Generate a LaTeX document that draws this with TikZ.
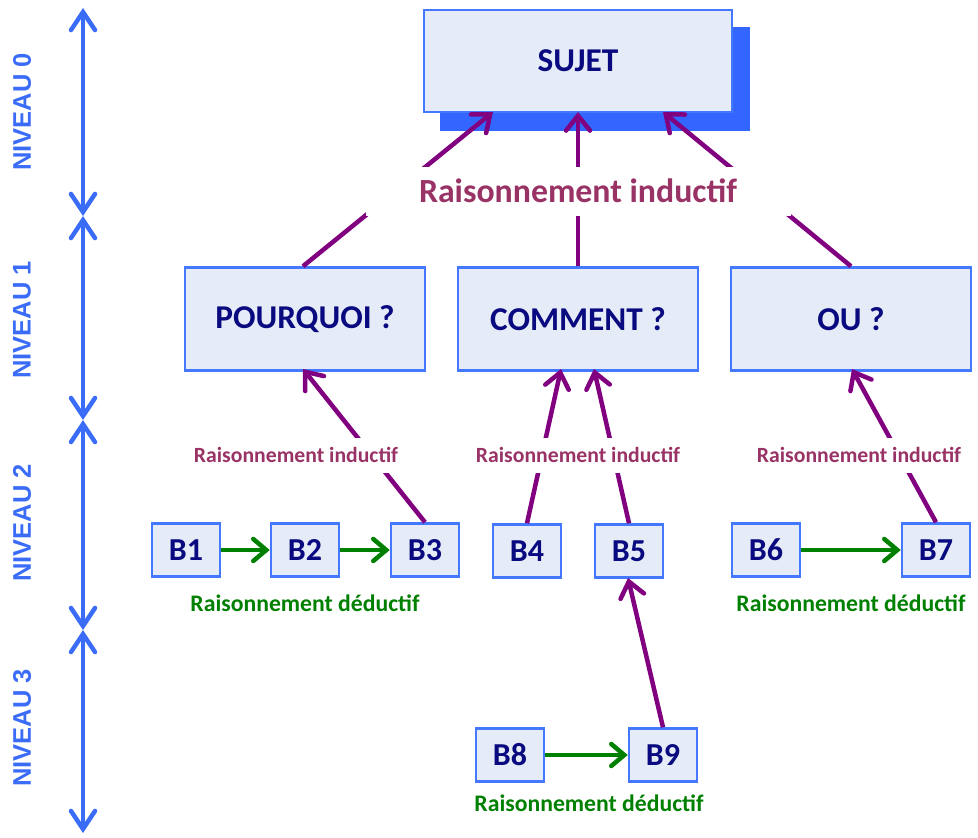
\documentclass[tikz,border=0pt]{standalone}
\usepackage{fontspec}
\setmainfont{Carlito}
\newfontfamily\axisfont{Liberation Sans}
\usetikzlibrary{arrows.meta}
\definecolor{boxfill}{HTML}{E6ECF7}
\definecolor{boxline}{HTML}{4478FF}
\definecolor{navy}{HTML}{0A0A80}
\definecolor{shadowblue}{HTML}{3366FF}
\definecolor{indpurple}{HTML}{800080}
\definecolor{indlabel}{HTML}{993366}
\definecolor{dedgreen}{HTML}{008000}
\definecolor{axisblue}{HTML}{3B6CF7}
\tikzset{
  box/.style={draw=boxline, line width=2.5pt, fill=boxfill, text=navy,
    font=\fontsize{33.3}{38}\selectfont\bfseries, inner sep=0pt},
  bbox/.style={box, minimum width=68pt, minimum height=53pt, font=\fontsize{32}{36}\selectfont\bfseries},
  lvlbox/.style={box, minimum width=240pt, minimum height=103pt},
  indarrow/.style={draw=indpurple, line width=4.5pt,
    -{Straight Barb[length=15pt,width=24pt,line cap=round]}},
  dedarrow/.style={draw=dedgreen, line width=4.5pt,
    -{Straight Barb[length=13pt,width=22pt,line cap=round]}},
  axisarrow/.style={draw=axisblue, line width=4.5pt,
    {Straight Barb[length=18pt,width=24pt,line cap=round]}-{Straight Barb[length=18pt,width=24pt,line cap=round]}},
  indlab/.style={fill=white, text=indlabel, font=\fontsize{21.7}{24}\selectfont\bfseries, inner sep=0pt},
  dedlab/.style={text=dedgreen, font=\fontsize{23.7}{26}\selectfont\bfseries, inner sep=0pt},
  axislab/.style={text=axisblue, rotate=90, font=\axisfont\fontsize{25.5}{28}\selectfont\bfseries, inner sep=0pt},
}
\begin{document}
\begin{tikzpicture}[x=1pt,y=-1pt]
\useasboundingbox (0,0) rectangle (978,838);
% axis
\coordinate (l0) at (83,8);
\coordinate (l1) at (83,216);
\coordinate (l2) at (83,420);
\coordinate (l3) at (83,630);
\coordinate (l4) at (83,833);
\draw[axisarrow] (l0) -- (l1);
\draw[axisarrow] (l1) -- (l2);
\draw[axisarrow] (l2) -- (l3);
\draw[axisarrow] (l3) -- (l4);
\node[axislab] (n0) at (22,112) {NIVEAU 0};
\node[axislab] (n1) at (22,320) {NIVEAU 1};
\node[axislab] (n2) at (22,523) {NIVEAU 2};
\node[axislab] (n3) at (22,728) {NIVEAU 3};
% sujet
\fill[shadowblue] (440,27) rectangle (750,131);
\node[box, minimum width=308pt, minimum height=102pt] (sujet) at (578,61) {SUJET};
% level 1
\node[lvlbox] (pq) at (305,319) {POURQUOI ?};
\node[lvlbox] (cm) at (578,319) {COMMENT ?};
\node[lvlbox] (ou) at (851,319) {OU ?};
% level 2
\node[bbox] (b1) at (186,550) {B1};
\node[bbox] (b2) at (305,550) {B2};
\node[bbox] (b3) at (425,550) {B3};
\node[bbox] (b4) at (527,551) {B4};
\node[bbox] (b5) at (629,551) {B5};
\node[bbox] (b6) at (766,550) {B6};
\node[bbox] (b7) at (936,550) {B7};
\node[bbox] (b8) at (510,755) {B8};
\node[bbox] (b9) at (663,755) {B9};
% inductive arrows to sujet
\draw[indarrow] (pq.north -| 303,0) -- (493,112);
\draw[indarrow] (cm.north) -- (578,112);
\draw[indarrow] (ou.north) -- (663,112);
\node[indlab, fill=white, minimum width=425pt, minimum height=49pt,
  font=\fontsize{33.8}{38}\selectfont\bfseries] (lab0) at (578,191) {Raisonnement inductif};
% inductive arrows level 2
\draw[indarrow] (b3.north) -- (303,369);
\draw[indarrow] (b4.north) -- (561,369);
\draw[indarrow] (b5.north) -- (594,369);
\draw[indarrow] (b7.north) -- (852,369);
\draw[indarrow] (b9.north) -- (628,578);
\node[indlab, minimum height=35pt] (lab1) at (296,455) {Raisonnement inductif};
\node[indlab, minimum height=35pt] (lab2) at (578,455) {Raisonnement inductif};
\node[indlab, minimum height=35pt] (lab3) at (859,455) {Raisonnement inductif};
% deductive
\draw[dedarrow] (b1) -- (b2);
\draw[dedarrow] (b2) -- (b3);
\draw[dedarrow] (b6) -- (b7);
\draw[dedarrow] (b8) -- (b9);
\node[dedlab] (d1) at (305,603) {Raisonnement déductif};
\node[dedlab] (d2) at (851,603) {Raisonnement déductif};
\node[dedlab] (d3) at (589,803) {Raisonnement déductif};
\end{tikzpicture}
\end{document}
